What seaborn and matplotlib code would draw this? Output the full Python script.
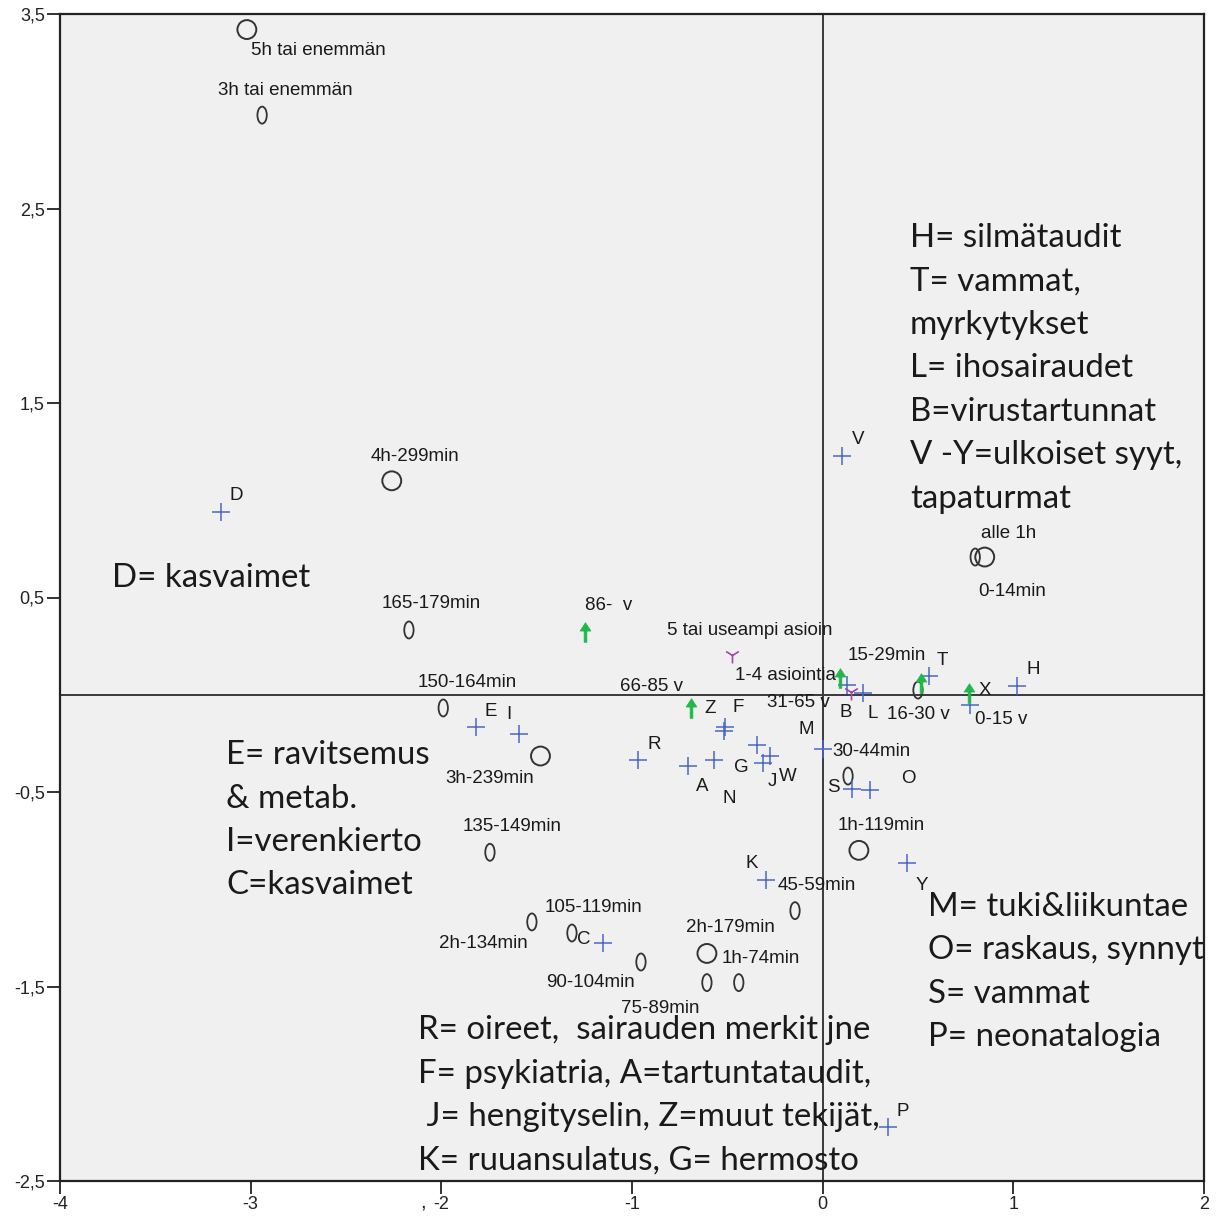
import numpy as np
import pandas as pd
import matplotlib
matplotlib.use("Agg")
import matplotlib.pyplot as plt
from matplotlib.path import Path
from matplotlib.transforms import Affine2D
from matplotlib.ticker import FuncFormatter, FixedLocator
import seaborn as sns

# ---------------- data ----------------
# hour groups (big circles)
hour_labels = ["5h tai enemmän", "4h-299min", "3h-239min", "2h-179min", "1h-119min", "alle 1h"]
hour_x = [-3.02, -2.26, -1.48, -0.607, 0.19, 0.85]
hour_y = [3.42, 1.10, -0.315, -1.33, -0.80, 0.708]

# 15-minute groups ("0" markers)
min_labels = ["3h tai enemmän", "165-179min", "150-164min", "135-149min", "2h-134min",
              "105-119min", "90-104min", "75-89min", "1h-74min", "45-59min",
              "30-44min", "15-29min", "0-14min"]
min_x = [-2.94, -2.17, -1.99, -1.745, -1.525, -1.315, -0.953, -0.607, -0.44, -0.145,
         0.133, 0.50, 0.80]
min_y = [2.98, 0.333, -0.068, -0.81, -1.168, -1.225, -1.374, -1.48, -1.48, -1.11,
         -0.418, 0.024, 0.708]

# diagnosis groups (blue pluses)
diag_labels = ["D", "V", "E", "I", "R", "A", "N", "F", "Z", "G", "W", "J", "M", "S", "O",
               "K", "Y", "C", "P", "T", "H", "X", "B", "L"]
diag_x = [-3.156, 0.10, -1.82, -1.593, -0.969, -0.706, -0.57, -0.51, -0.515, -0.345, -0.275,
          -0.315, 0.0, 0.154, 0.25, -0.297, 0.442, -1.152, 0.343, 0.558, 1.02, 0.773,
          0.128, 0.21]
diag_y = [0.94, 1.228, -0.166, -0.202, -0.336, -0.366, -0.336, -0.166, -0.185, -0.259,
          -0.315, -0.35, -0.279, -0.485, -0.49, -0.952, -0.865, -1.276, -2.222, 0.096,
          0.045, -0.053, 0.05, 0.009]

# age groups (green arrows)
age_labels = ["86-  v", "66-85 v", "31-65 v", "16-30 v", "0-15 v"]
age_x = [-1.247, -0.69, 0.09, 0.516, 0.767]
age_y = [0.323, -0.068, 0.086, 0.06, 0.009]

# number of visits (purple tri)
visit_labels = ["5 tai useampi asioin", "1-4 asiointia"]
visit_x = [-0.476, 0.147]
visit_y = [0.204, 0.014]

x_ticks = [-4, -3, -2, -1, 0, 1, 2]
y_ticks = [3.5, 2.5, 1.5, 0.5, -0.5, -1.5, -2.5]

legend_right_top = ["H= silmätaudit", "T= vammat,", "myrkytykset", "L= ihosairaudet",
                    "B=virustartunnat", "V -Y=ulkoiset syyt,", "tapaturmat"]
legend_d = ["D= kasvaimet"]
legend_left = ["E= ravitsemus", "& metab.", "I=verenkierto", "C=kasvaimet"]
legend_right_bottom = ["M= tuki&liikuntae", "O= raskaus, synnytys", "S= vammat", "P= neonatalogia"]
legend_bottom = ["R= oireet,  sairauden merkit jne", "F= psykiatria, A=tartuntataudit,",
                 " J= hengityselin, Z=muut tekijät,", "K= ruuansulatus, G= hermosto"]

# ---------------- label offsets (pixels: dx right, dy up) ----------------
hour_off = {"5h tai enemmän": (4, -21, "left"), "4h-299min": (-21, 24, "left"),
            "3h-239min": (-6, -22, "right"), "2h-179min": (-21, 26, "left"),
            "1h-119min": (-21, 25, "left"), "alle 1h": (-4, 24, "left")}
min_off = {"3h tai enemmän": (-44, 25, "left"), "165-179min": (-27, 26, "left"),
           "150-164min": (-26, 25, "left"), "135-149min": (-27, 26, "left"),
           "2h-134min": (-4, -22, "right"), "105-119min": (-27, 26, "left"),
           "90-104min": (-6, -21, "right"), "75-89min": (-7, -26, "right"),
           "1h-74min": (-17, 24, "left"), "45-59min": (-17, 25, "left"),
           "30-44min": (-16, 25, "left"), "15-29min": (-70, 35, "left"),
           "0-14min": (3, -34, "left")}
diag_off = {"D": (15, 16), "V": (16, 16), "E": (15, 16), "I": (-10, 20), "R": (16, 16),
            "A": (14, -21), "N": (15, -38), "F": (13, 20), "Z": (-14, 22), "G": (-16, -22),
            "W": (18, -20), "J": (10, -19), "M": (-16, 20), "S": (-19, 2), "O": (38, 12),
            "K": (-14, 16), "Y": (15, -23), "C": (-19, 3), "P": (15, 15), "T": (13, 16),
            "H": (16, 16), "X": (15, 15), "B": (-1, -27), "L": (10, -21)}
age_off = {"86-  v": (0, 26, "left"), "66-85 v": (-8, 21, "right"), "31-65 v": (-10, -24, "right"),
           "16-30 v": (-34, -31, "left"), "0-15 v": (6, -27, "left")}
visit_off = {"5 tai useampi asioin": (-65, 25, "left"), "1-4 asiointia": (-15, 17, "right")}

# ---------------- style ----------------
sns.set_style("ticks")
plt.rcParams["font.family"] = ["Liberation Sans", "DejaVu Sans"]

fig = plt.figure(figsize=(12.3, 12.18), dpi=100)
ax = fig.add_axes([60 / 1230, 37 / 1218, 1144 / 1230, 1167 / 1218])
ax.set_facecolor("#f0f0f0")

ax.axhline(0, color="#3a3a3a", lw=1.4, zorder=1)
ax.axvline(0, color="#3a3a3a", lw=1.4, zorder=1)

gray = "#333333"
blue = "#4a66c4"
green = "#21b84a"
purple = "#a046aa"

ellipse = Affine2D().scale(0.55, 1.0).transform_path(Path.unit_circle())
head = [(-0.55, 0.15), (0.55, 0.15), (0.0, 1.0), (-0.55, 0.15)]
stem = [(-0.14, -1.0), (0.14, -1.0), (0.14, 0.2), (-0.14, 0.2), (-0.14, -1.0)]
arrow = Path(head + stem,
             [Path.MOVETO, Path.LINETO, Path.LINETO, Path.CLOSEPOLY,
              Path.MOVETO, Path.LINETO, Path.LINETO, Path.LINETO, Path.CLOSEPOLY])

df_hour = pd.DataFrame({"x": hour_x, "y": hour_y, "label": hour_labels})
df_min = pd.DataFrame({"x": min_x, "y": min_y, "label": min_labels})
df_diag = pd.DataFrame({"x": diag_x, "y": diag_y, "label": diag_labels})
df_age = pd.DataFrame({"x": age_x, "y": age_y, "label": age_labels})
df_visit = pd.DataFrame({"x": visit_x, "y": visit_y, "label": visit_labels})

sns.scatterplot(data=df_hour, x="x", y="y", marker="o", s=185, facecolors="none",
                edgecolor=gray, linewidth=1.4, color=gray, ax=ax, zorder=3)
sns.scatterplot(data=df_min, x="x", y="y", marker=ellipse, s=150, facecolors="none",
                edgecolor=gray, linewidth=1.3, color=gray, ax=ax, zorder=3)
sns.scatterplot(data=df_diag, x="x", y="y", marker="+", s=150, color=blue,
                linewidth=1.1, ax=ax, zorder=3)
sns.scatterplot(data=df_age, x="x", y="y", marker=arrow, s=200, color=green,
                edgecolor=green, linewidth=0.5, ax=ax, zorder=3)
sns.scatterplot(data=df_visit, x="x", y="y", marker="1", s=130, color=purple,
                linewidth=1.2, ax=ax, zorder=3)

lab_fs = 13.5
for df, off in [(df_hour, hour_off), (df_min, min_off), (df_age, age_off), (df_visit, visit_off)]:
    for _, r in df.iterrows():
        dx, dy, ha = off[r["label"]]
        ax.annotate(r["label"], (r["x"], r["y"]), xytext=(dx, dy), textcoords="offset pixels",
                    ha=ha, va="center", fontsize=lab_fs, color="#1a1a1a", zorder=4)
for _, r in df_diag.iterrows():
    dx, dy = diag_off[r["label"]]
    ax.annotate(r["label"], (r["x"], r["y"]), xytext=(dx, dy), textcoords="offset pixels",
                ha="center", va="center", fontsize=lab_fs, color="#1a1a1a", zorder=4)

# explanatory text blocks
big_font = ["Lato", "DejaVu Sans"]
big_fs = 23.8
blocks = [(legend_right_top, 0.458, 2.348), (legend_d, -3.727, 0.600),
          (legend_left, -3.129, -0.310), (legend_right_bottom, 0.552, -1.091),
          (legend_bottom, -2.122, -1.724)]
step = 0.2235
for lines, bx, by in blocks:
    for i, line in enumerate(lines):
        ax.text(bx, by - i * step, line, ha="left", va="center", fontsize=big_fs,
                family=big_font, color="#1a1a1a", clip_on=True, zorder=5)

ax.set_xlim(-4, 2)
ax.set_ylim(-2.5, 3.5)
ax.xaxis.set_major_locator(FixedLocator(x_ticks))
ax.yaxis.set_major_locator(FixedLocator(y_ticks))
ax.yaxis.set_major_formatter(FuncFormatter(lambda v, p: f"{v:.1f}".replace(".", ",")))
ax.xaxis.set_major_formatter(FuncFormatter(lambda v, p: f"{int(v)}"))
ax.tick_params(axis="both", direction="out", length=9.5, width=1.3, color="#222222",
               labelsize=13, labelcolor="#222222", pad=1.5)
ax.set_xlabel("")
ax.set_ylabel("")
for sp in ax.spines.values():
    sp.set_visible(True)
    sp.set_color("#222222")
    sp.set_linewidth(1.6)

# stray comma beside the -2 tick label
ax.text(-2.095, -0.0225, ",", transform=ax.get_xaxis_transform(), ha="center", va="baseline",
        fontsize=15, color="#222222", clip_on=False)

fig.savefig("out.png", dpi=100, facecolor="white")
